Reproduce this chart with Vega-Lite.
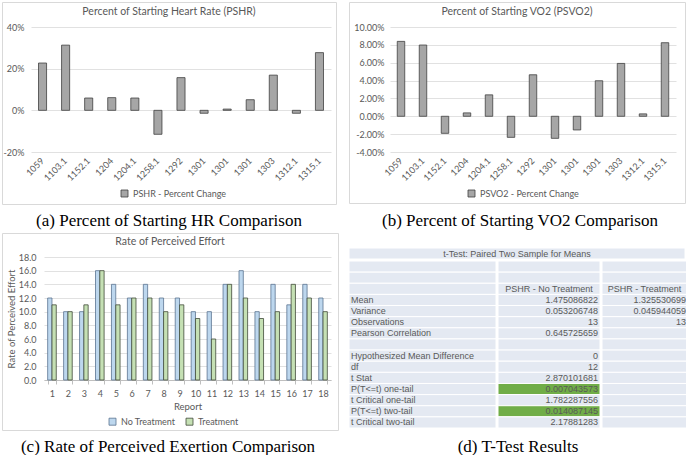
{
  "$schema": "https://vega.github.io/schema/vega-lite/v6.json",
  "padding": {"left": 1, "top": 1, "right": 0, "bottom": 0},
  "background": "white",
  "spacing": 9,
  "resolve": {"scale": {"color": "independent", "stroke": "independent"}, "legend": {"color": "independent", "stroke": "independent"}},
  "datasets": {
    "hr": [
      {"key": "1059", "pct": 0.227, "s": "PSHR - Percent Change"},
      {"key": "1103.1", "pct": 0.313, "s": "PSHR - Percent Change"},
      {"key": "1152.1", "pct": 0.059, "s": "PSHR - Percent Change"},
      {"key": "1204", "pct": 0.061, "s": "PSHR - Percent Change"},
      {"key": "1204.1", "pct": 0.059, "s": "PSHR - Percent Change"},
      {"key": "1258.1", "pct": -0.115, "s": "PSHR - Percent Change"},
      {"key": "1292", "pct": 0.157, "s": "PSHR - Percent Change"},
      {"key": "1301#a", "pct": -0.014, "s": "PSHR - Percent Change"},
      {"key": "1301#b", "pct": 0.006, "s": "PSHR - Percent Change"},
      {"key": "1301#c", "pct": 0.051, "s": "PSHR - Percent Change"},
      {"key": "1303", "pct": 0.169, "s": "PSHR - Percent Change"},
      {"key": "1312.1", "pct": -0.014, "s": "PSHR - Percent Change"},
      {"key": "1315.1", "pct": 0.277, "s": "PSHR - Percent Change"}
    ],
    "vo2": [
      {"key": "1059", "pct": 0.0839, "s": "PSVO2 - Percent Change"},
      {"key": "1103.1", "pct": 0.0798, "s": "PSVO2 - Percent Change"},
      {"key": "1152.1", "pct": -0.0191, "s": "PSVO2 - Percent Change"},
      {"key": "1204", "pct": 0.0038, "s": "PSVO2 - Percent Change"},
      {"key": "1204.1", "pct": 0.024, "s": "PSVO2 - Percent Change"},
      {"key": "1258.1", "pct": -0.0236, "s": "PSVO2 - Percent Change"},
      {"key": "1292", "pct": 0.0465, "s": "PSVO2 - Percent Change"},
      {"key": "1301#a", "pct": -0.0247, "s": "PSVO2 - Percent Change"},
      {"key": "1301#b", "pct": -0.0153, "s": "PSVO2 - Percent Change"},
      {"key": "1301#c", "pct": 0.0398, "s": "PSVO2 - Percent Change"},
      {"key": "1303", "pct": 0.0592, "s": "PSVO2 - Percent Change"},
      {"key": "1312.1", "pct": 0.0027, "s": "PSVO2 - Percent Change"},
      {"key": "1315.1", "pct": 0.0824, "s": "PSVO2 - Percent Change"}
    ],
    "rpe": [
      {"report": 1, "group": "No Treatment", "rpe": 12}, {"report": 1, "group": "Treatment", "rpe": 11},
      {"report": 2, "group": "No Treatment", "rpe": 10}, {"report": 2, "group": "Treatment", "rpe": 10},
      {"report": 3, "group": "No Treatment", "rpe": 10}, {"report": 3, "group": "Treatment", "rpe": 11},
      {"report": 4, "group": "No Treatment", "rpe": 16}, {"report": 4, "group": "Treatment", "rpe": 16},
      {"report": 5, "group": "No Treatment", "rpe": 14}, {"report": 5, "group": "Treatment", "rpe": 11},
      {"report": 6, "group": "No Treatment", "rpe": 12}, {"report": 6, "group": "Treatment", "rpe": 12},
      {"report": 7, "group": "No Treatment", "rpe": 14}, {"report": 7, "group": "Treatment", "rpe": 12},
      {"report": 8, "group": "No Treatment", "rpe": 12}, {"report": 8, "group": "Treatment", "rpe": 10},
      {"report": 9, "group": "No Treatment", "rpe": 12}, {"report": 9, "group": "Treatment", "rpe": 11},
      {"report": 10, "group": "No Treatment", "rpe": 10}, {"report": 10, "group": "Treatment", "rpe": 9},
      {"report": 11, "group": "No Treatment", "rpe": 10}, {"report": 11, "group": "Treatment", "rpe": 6},
      {"report": 12, "group": "No Treatment", "rpe": 14}, {"report": 12, "group": "Treatment", "rpe": 14},
      {"report": 13, "group": "No Treatment", "rpe": 16}, {"report": 13, "group": "Treatment", "rpe": 12},
      {"report": 14, "group": "No Treatment", "rpe": 10}, {"report": 14, "group": "Treatment", "rpe": 9},
      {"report": 15, "group": "No Treatment", "rpe": 14}, {"report": 15, "group": "Treatment", "rpe": 10},
      {"report": 16, "group": "No Treatment", "rpe": 11}, {"report": 16, "group": "Treatment", "rpe": 14},
      {"report": 17, "group": "No Treatment", "rpe": 14}, {"report": 17, "group": "Treatment", "rpe": 12},
      {"report": 18, "group": "No Treatment", "rpe": 12}, {"report": 18, "group": "Treatment", "rpe": 10}
    ],
    "tt": [
      {"r": 1, "label": "", "a": "", "b": ""},
      {"r": 2, "label": "", "a": "", "b": ""},
      {"r": 3, "label": "", "a": "PSHR - No Treatment", "b": "PSHR - Treatment"},
      {"r": 4, "label": "Mean", "a": "1.475086822", "b": "1.325530699"},
      {"r": 5, "label": "Variance", "a": "0.053206748", "b": "0.045944059"},
      {"r": 6, "label": "Observations", "a": "13", "b": "13"},
      {"r": 7, "label": "Pearson Correlation", "a": "0.645725659", "b": ""},
      {"r": 8, "label": "", "a": "", "b": ""},
      {"r": 9, "label": "Hypothesized Mean Difference", "a": "0", "b": ""},
      {"r": 10, "label": "df", "a": "12", "b": ""},
      {"r": 11, "label": "t Stat", "a": "2.870101681", "b": ""},
      {"r": 12, "label": "P(T<=t) one-tail", "a": "0.007043573", "b": ""},
      {"r": 13, "label": "t Critical one-tail", "a": "1.782287556", "b": ""},
      {"r": 14, "label": "P(T<=t) two-tail", "a": "0.014087145", "b": ""},
      {"r": 15, "label": "t Critical two-tail", "a": "2.17881283", "b": ""}
    ]
  },
  "hconcat": [
    {
      "spacing": 3,
      "resolve": {"scale": {"color": "independent", "stroke": "independent"}, "legend": {"color": "independent", "stroke": "independent"}},
      "vconcat": [
        {
          "title": {"text": "(a) Percent of Starting HR Comparison", "orient": "bottom", "anchor": "middle", "font": "Liberation Serif", "fontSize": 17, "color": "#000000", "fontWeight": "normal", "offset": 8},
          "vconcat": [
            {
              "width": 334, "height": 202,
              "view": {"stroke": "#d9d9d9", "strokeWidth": 1},
              "title": {"text": "Percent of Starting Heart Rate (PSHR)", "frame": "group", "anchor": "middle", "offset": -15, "fontSize": 10.5},
              "data": {"name": "hr"},
              "mark": {"type": "bar", "stroke": "#404040", "strokeWidth": 0.8},
              "encoding": {
                "x": {"field": "key", "type": "nominal", "sort": null,
                  "scale": {"range": [29, 329], "paddingInner": 0.65, "paddingOuter": 0.325},
                  "axis": {"title": null, "labelExpr": "split(datum.value, '#')[0]", "labelAngle": -45, "labelAlign": "right", "labelBaseline": "middle", "labelPadding": 7, "ticks": false, "domain": false, "grid": false, "offset": -52}},
                "y": {"field": "pct", "type": "quantitative",
                  "scale": {"domain": [-0.2, 0.4], "range": [150, 25], "nice": false},
                  "axis": {"title": null, "values": [-0.2, 0, 0.2, 0.4], "format": ".0%", "labelExpr": "replace(datum.label, '\u2212', '-')", "ticks": false, "domain": false, "labelPadding": 7, "offset": -29}},
                "color": {"field": "s", "type": "nominal", "scale": {"range": ["#a6a6a6"]},
                  "legend": {"title": null, "orient": "none", "legendX": 118, "legendY": 187, "direction": "horizontal", "symbolType": "square", "symbolSize": 49, "symbolStrokeColor": "#404040", "symbolStrokeWidth": 0.8, "labelOffset": 4}}
              }
            }
          ]
        },
        {
          "title": {"text": "(c) Rate of Perceived Exertion Comparison", "orient": "bottom", "anchor": "middle", "font": "Liberation Serif", "fontSize": 17, "color": "#000000", "fontWeight": "normal", "offset": 8, "dx": -2},
          "vconcat": [
            {
              "width": 336, "height": 197,
              "view": {"stroke": "#d9d9d9", "strokeWidth": 1},
              "title": {"text": "Rate of Perceived Effort", "frame": "group", "anchor": "middle", "offset": -14, "fontSize": 10.5},
              "data": {"name": "rpe"},
              "mark": {"type": "bar", "strokeWidth": 0.8},
              "encoding": {
                "x": {"field": "report", "type": "ordinal",
                  "scale": {"range": [42, 329], "paddingInner": 0.46, "paddingOuter": 0.23},
                  "axis": {"title": "Report", "titlePadding": 3, "labelAngle": 0, "labelPadding": 5, "tickBand": "extent", "tickSize": 4, "domain": true, "grid": false, "offset": -50}},
                "xOffset": {"field": "group", "type": "nominal", "scale": {"paddingInner": 0}},
                "y": {"field": "rpe", "type": "quantitative",
                  "scale": {"domain": [0, 18], "range": [147, 24], "nice": false},
                  "axis": {"title": "Rate of Perceived Effort", "titlePadding": 2, "values": [0, 2, 4, 6, 8, 10, 12, 14, 16, 18], "format": ".1f", "ticks": false, "domain": false, "labelPadding": 8, "offset": -42}},
                "color": {"field": "group", "type": "nominal", "scale": {"domain": ["No Treatment", "Treatment"], "range": ["#bdd7ee", "#c5e0b4"]},
                  "legend": {"title": null, "orient": "none", "legendX": 106, "legendY": 184, "direction": "horizontal", "symbolType": "square", "symbolSize": 49, "symbolStrokeColor": "#595959", "symbolStrokeWidth": 0.8, "labelOffset": 4, "columnPadding": 8}},
                "stroke": {"field": "group", "type": "nominal", "scale": {"domain": ["No Treatment", "Treatment"], "range": ["#5b7390", "#404a38"]}, "legend": null}
              }
            }
          ]
        }
      ]
    },
    {
      "spacing": 18,
      "resolve": {"scale": {"color": "independent", "stroke": "independent"}, "legend": {"color": "independent", "stroke": "independent"}},
      "vconcat": [
        {
          "title": {"text": "(b) Percent of Starting VO2 Comparison", "orient": "bottom", "anchor": "middle", "font": "Liberation Serif", "fontSize": 17, "color": "#000000", "fontWeight": "normal", "offset": 9, "dx": 3},
          "vconcat": [
            {
              "width": 336, "height": 201,
              "view": {"stroke": "#d9d9d9", "strokeWidth": 1},
              "title": {"text": "Percent of Starting VO2 (PSVO2)", "frame": "group", "anchor": "middle", "offset": -15, "fontSize": 10.5},
              "data": {"name": "vo2"},
              "mark": {"type": "bar", "stroke": "#404040", "strokeWidth": 0.8},
              "encoding": {
                "x": {"field": "key", "type": "nominal", "sort": null,
                  "scale": {"range": [41, 327], "paddingInner": 0.66, "paddingOuter": 0.33},
                  "axis": {"title": null, "labelExpr": "split(datum.value, '#')[0]", "labelAngle": -45, "labelAlign": "right", "labelBaseline": "middle", "labelPadding": 7, "ticks": false, "domain": false, "grid": false, "offset": -51}},
                "y": {"field": "pct", "type": "quantitative",
                  "scale": {"domain": [-0.04, 0.1], "range": [150, 25], "nice": false},
                  "axis": {"title": null, "values": [-0.04, -0.02, 0, 0.02, 0.04, 0.06, 0.08, 0.1], "format": ".2%", "labelExpr": "replace(datum.label, '\u2212', '-')", "ticks": false, "domain": false, "labelPadding": 6, "offset": -41}},
                "color": {"field": "s", "type": "nominal", "scale": {"range": ["#a6a6a6"]},
                  "legend": {"title": null, "orient": "none", "legendX": 118, "legendY": 187, "direction": "horizontal", "symbolType": "square", "symbolSize": 49, "symbolStrokeColor": "#404040", "symbolStrokeWidth": 0.8, "labelOffset": 4}}
              }
            }
          ]
        },
        {
          "title": {"text": "(d) T-Test Results", "orient": "bottom", "anchor": "middle", "font": "Liberation Serif", "fontSize": 17, "color": "#000000", "fontWeight": "normal", "offset": 10},
          "spacing": 0,
          "vconcat": [
            {
              "width": 336, "height": 11,
              "data": {"values": [{"t": "t-Test: Paired Two Sample for Means"}]},
              "layer": [
                {"mark": {"type": "rect", "fill": "#e4e9f2", "stroke": "white", "strokeWidth": 1},
                 "encoding": {"x": {"datum": 0, "type": "quantitative", "scale": {"domain": [0, 1]}, "axis": null}, "x2": {"datum": 1},
                              "y": {"datum": 0, "type": "quantitative", "scale": {"domain": [0, 1]}, "axis": null}, "y2": {"datum": 1}}},
                {"mark": {"type": "text", "font": "Liberation Sans", "fontSize": 9, "color": "#595959", "align": "center", "baseline": "middle"},
                 "encoding": {"x": {"datum": 0.5, "type": "quantitative"}, "y": {"datum": 0.5, "type": "quantitative"}, "text": {"field": "t"}}}
              ]
            },
            {
              "spacing": 0,
              "hconcat": [
                {
                  "width": 147, "height": 167,
                  "data": {"name": "tt"},
                  "layer": [
                    {"mark": {"type": "rect", "fill": "#e4e9f2", "stroke": "white", "strokeWidth": 1},
                     "encoding": {"x": {"datum": 0, "type": "quantitative", "scale": {"domain": [0, 1]}, "axis": null}, "x2": {"datum": 1},
                                  "y": {"field": "r", "type": "ordinal", "scale": {"paddingInner": 0, "paddingOuter": 0}, "axis": null}}},
                    {"mark": {"type": "text", "font": "Liberation Sans", "fontSize": 9, "color": "#595959", "align": "left", "baseline": "middle", "dx": 2},
                     "encoding": {"x": {"datum": 0, "type": "quantitative"}, "y": {"field": "r", "type": "ordinal"}, "text": {"field": "label"}}}
                  ]
                },
                {
                  "width": 102, "height": 167,
                  "data": {"name": "tt"},
                  "layer": [
                    {"mark": {"type": "rect", "stroke": "white", "strokeWidth": 1},
                     "encoding": {"x": {"datum": 0, "type": "quantitative", "scale": {"domain": [0, 1]}, "axis": null}, "x2": {"datum": 1},
                                  "y": {"field": "r", "type": "ordinal", "scale": {"paddingInner": 0, "paddingOuter": 0}, "axis": null},
                                  "fill": {"condition": {"test": "indexof(datum.label, 'P(T') === 0", "value": "#70ad47"}, "value": "#e4e9f2"}}},
                    {"transform": [{"filter": "datum.r !== 3"}],
                     "mark": {"type": "text", "font": "Liberation Sans", "fontSize": 9, "color": "#595959", "align": "right", "baseline": "middle", "dx": -2},
                     "encoding": {"x": {"datum": 1, "type": "quantitative"}, "y": {"field": "r", "type": "ordinal"}, "text": {"field": "a"}}},
                    {"transform": [{"filter": "datum.r === 3"}],
                     "mark": {"type": "text", "font": "Liberation Sans", "fontSize": 9, "color": "#595959", "align": "center", "baseline": "middle"},
                     "encoding": {"x": {"datum": 0.5, "type": "quantitative"}, "y": {"field": "r", "type": "ordinal"}, "text": {"field": "a"}}}
                  ]
                },
                {
                  "width": 85, "height": 167,
                  "data": {"name": "tt"},
                  "layer": [
                    {"mark": {"type": "rect", "fill": "#e4e9f2", "stroke": "white", "strokeWidth": 1},
                     "encoding": {"x": {"datum": 0, "type": "quantitative", "scale": {"domain": [0, 1]}, "axis": null}, "x2": {"datum": 1},
                                  "y": {"field": "r", "type": "ordinal", "scale": {"paddingInner": 0, "paddingOuter": 0}, "axis": null}}},
                    {"transform": [{"filter": "datum.r !== 3"}],
                     "mark": {"type": "text", "font": "Liberation Sans", "fontSize": 9, "color": "#595959", "align": "right", "baseline": "middle", "dx": -1},
                     "encoding": {"x": {"datum": 1, "type": "quantitative"}, "y": {"field": "r", "type": "ordinal"}, "text": {"field": "b"}}},
                    {"transform": [{"filter": "datum.r === 3"}],
                     "mark": {"type": "text", "font": "Liberation Sans", "fontSize": 9, "color": "#595959", "align": "center", "baseline": "middle"},
                     "encoding": {"x": {"datum": 0.5, "type": "quantitative"}, "y": {"field": "r", "type": "ordinal"}, "text": {"field": "b"}}}
                  ]
                }
              ]
            }
          ]
        }
      ]
    }
  ],
  "config": {
    "view": {"stroke": null},
    "font": "Lato",
    "axis": {"labelFont": "Lato", "labelFontSize": 9, "labelColor": "#595959", "titleFont": "Lato", "titleFontSize": 9.5, "titleColor": "#595959", "titleFontWeight": "normal", "gridColor": "#d9d9d9", "gridWidth": 0.8, "domainColor": "#bfbfbf", "tickColor": "#bfbfbf"},
    "legend": {"labelFont": "Lato", "labelFontSize": 9, "labelColor": "#595959"},
    "title": {"font": "Lato", "fontSize": 11, "fontWeight": "normal", "color": "#595959"}
  }
}
